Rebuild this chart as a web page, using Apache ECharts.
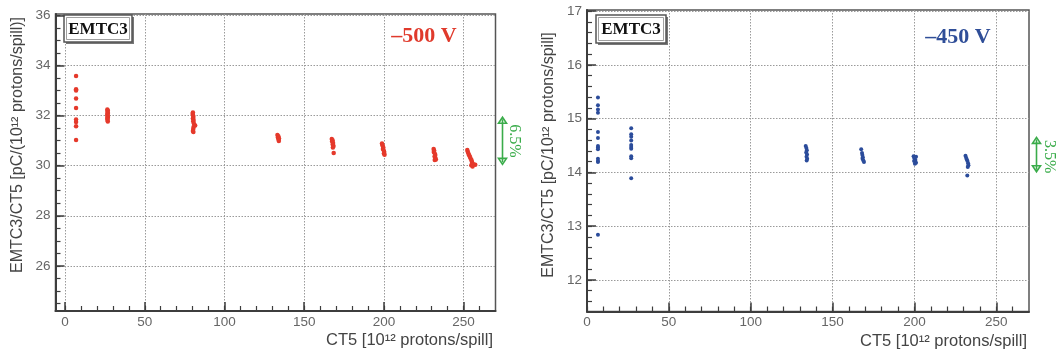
<!DOCTYPE html>
<html><head><meta charset="utf-8">
<script src="https://cdn.jsdelivr.net/npm/echarts@6/dist/echarts.min.js"></script>
<style>html,body{margin:0;padding:0;background:#fff}#c{width:1059px;height:356px}</style>
</head><body><div id="c"></div>
<script>
// ---- data ----
const xTickLabels = [0, 50, 100, 150, 200, 250];
const leftYTickLabels = [26, 28, 30, 32, 34, 36];
const rightYTickLabels = [12, 13, 14, 15, 16, 17];

// -500 V (red) : [CT5, EMTC3/CT5]
const redPoints = [
  [6.9,33.58],[6.9,33.05],[6.9,33.0],[6.9,32.68],[6.9,32.30],[6.9,31.84],[6.9,31.74],[6.9,31.57],[6.9,31.02],
  [26.5,32.24],[26.8,32.20],[26.6,32.15],[26.9,32.10],[26.5,32.06],[26.7,32.02],[26.6,31.98],[26.9,31.94],[26.5,31.90],[26.7,31.86],[26.6,31.82],[26.8,31.76],
  [80.2,32.12],[80.0,32.06],[80.3,32.00],[80.5,31.94],[80.2,31.88],[80.6,31.82],[80.4,31.76],[80.8,31.68],[81.6,31.60],[80.6,31.54],[80.4,31.46],[80.2,31.38],[80.5,31.34],
  [133.2,31.22],[133.8,31.17],[133.5,31.12],[134.2,31.08],[133.9,31.04],[134.1,30.98],
  [167.3,31.06],[167.8,31.01],[167.5,30.96],[168.1,30.90],[167.9,30.84],[168.4,30.78],[168.0,30.72],[168.5,30.50],
  [198.8,30.88],[199.0,30.83],[199.3,30.78],[199.6,30.72],[199.4,30.66],[199.9,30.60],[200.2,30.54],[200.0,30.48],[200.4,30.43],
  [231.2,30.66],[231.5,30.60],[231.3,30.54],[231.9,30.48],[232.2,30.42],[231.8,30.36],[232.3,30.30],[232.6,30.24],[231.9,30.22],
  [252.3,30.62],[252.6,30.55],[253.0,30.48],[253.5,30.41],[253.9,30.35],[254.4,30.28],[254.9,30.22],[255.2,30.15],[255.5,30.08],[254.8,30.02],[256.2,30.06],[257.3,30.04],[255.6,29.97]
];
// -450 V (blue)
const bluePoints = [
  [6.7,15.39],[6.7,15.25],[6.7,15.17],[6.7,15.11],[6.7,14.75],[6.7,14.64],[6.7,14.49],[6.7,14.46],[6.7,14.43],[6.7,14.25],[6.7,14.21],[6.7,14.19],[6.7,12.84],
  [27.0,14.82],[27.0,14.71],[27.0,14.66],[27.0,14.59],[27.0,14.51],[27.0,14.47],[27.0,14.44],[27.0,14.30],[27.0,14.26],[27.0,13.89],
  [133.6,14.49],[134.0,14.45],[134.3,14.41],[133.9,14.37],[134.4,14.33],[134.1,14.29],[134.5,14.25],[134.2,14.22],
  [167.5,14.43],[168.0,14.36],[168.2,14.32],[168.5,14.28],[168.3,14.25],[168.8,14.22],[169.2,14.19],
  [199.5,14.30],[201.0,14.29],[200.0,14.26],[200.6,14.23],[199.8,14.21],[201.0,14.18],[200.3,14.16],
  [231.2,14.31],[231.6,14.27],[232.0,14.24],[232.4,14.21],[232.8,14.17],[233.0,14.13],[232.6,14.10],[232.3,13.94]
];
// spread annotations [top, bottom] in data units
const leftSpread = [31.93, 30.05];
const rightSpread = [14.65, 14.01];

// ---- helpers ----
function range(a, b, s) { const r = []; for (let v = a; v <= b + 1e-9; v += s) r.push(+v.toFixed(3)); return r; }
const xMinor = range(0, 260, 10);
const leftYMinor = range(24.5, 36, 0.5);
const rightYMinor = range(11.6, 17, 0.2);

const AX = '#3d3d3d', LBL = '#666', GRIDC = '#9a9a9a';
const FONT = 'Liberation Sans, Arial, sans-serif';

function mainAxis(gi, min, max, ticks, pos, isY) {
  return {
    type: 'value', gridIndex: gi, min: min, max: max, position: pos,
    axisLine: { show: true, onZero: false, lineStyle: { color: AX, width: 2 } },
    axisTick: { show: true, inside: true, length: 9, customValues: ticks, lineStyle: { color: AX, width: 1.5 } },
    axisLabel: { customValues: ticks, color: LBL, fontSize: 13.5, fontFamily: FONT, margin: isY ? 5 : 4 },
    splitLine: { show: true, lineStyle: { color: GRIDC, type: [1.5, 1.5], width: 1 } }
  };
}
function minorAxis(gi, min, max, ticks, pos) {
  return {
    type: 'value', gridIndex: gi, min: min, max: max, position: pos,
    axisLine: { show: false, onZero: false },
    axisTick: { show: true, inside: true, length: 5, customValues: ticks, lineStyle: { color: AX, width: 1.2 } },
    axisLabel: { show: false }, splitLine: { show: false }
  };
}

const chart = echarts.init(document.getElementById('c'), null, { renderer: 'canvas' });

const option = {
  animation: false,
  backgroundColor: '#ffffff',
  grid: [
    { left: 55.5, top: 14, width: 440, height: 297, show: true, borderColor: '#555', borderWidth: 1.5, backgroundColor: 'transparent' },
    { left: 587, top: 10, width: 442, height: 301.5, show: true, borderColor: '#555', borderWidth: 1.5, backgroundColor: 'transparent' }
  ],
  xAxis: [
    mainAxis(0, -6, 270, xTickLabels, 'bottom', false),
    minorAxis(0, -6, 270, xMinor, 'bottom'),
    mainAxis(1, 0, 270, xTickLabels, 'bottom', false),
    minorAxis(1, 0, 270, xMinor, 'bottom')
  ],
  yAxis: [
    mainAxis(0, 24.2, 36.05, leftYTickLabels, 'left', true),
    minorAxis(0, 24.2, 36.05, leftYMinor, 'left'),
    mainAxis(1, 11.41, 17.02, rightYTickLabels, 'left', true),
    minorAxis(1, 11.41, 17.02, rightYMinor, 'left')
  ],
  series: [
    { type: 'scatter', xAxisIndex: 0, yAxisIndex: 0, data: redPoints, symbolSize: 4.5,
      itemStyle: { color: '#e5392b', opacity: 1 } },
    { type: 'scatter', xAxisIndex: 2, yAxisIndex: 2, data: bluePoints, symbolSize: 4,
      itemStyle: { color: '#2b4c9b', opacity: 1 } }
  ]
};
chart.setOption(option);

const p = (gi, v) => chart.convertToPixel({ gridIndex: gi }, v);
const lt = p(0, [270, leftSpread[0]]), lb = p(0, [270, leftSpread[1]]);
const rt = p(1, [270, rightSpread[0]]), rb = p(1, [270, rightSpread[1]]);
const GREEN = '#3aac4a';

function arrow(x, y1, y2) {
  return [
    { type: 'line', shape: { x1: x, y1: y1 + 2, x2: x, y2: y2 - 2 }, style: { stroke: GREEN, lineWidth: 1.6 } },
    { type: 'polygon', shape: { points: [[x - 4, y1 + 6], [x, y1], [x + 4, y1 + 6]] }, style: { fill: null, stroke: GREEN, lineWidth: 1.6 } },
    { type: 'polygon', shape: { points: [[x - 4, y2 - 6], [x, y2], [x + 4, y2 - 6]] }, style: { fill: null, stroke: GREEN, lineWidth: 1.6 } }
  ];
}
function box(x, y, w, h) {
  return [
    { type: 'rect', shape: { x: x + 2, y: y + 2, width: w, height: h }, style: { fill: '#777' } },
    { type: 'rect', shape: { x: x, y: y, width: w, height: h }, style: { fill: '#fff', stroke: '#555', lineWidth: 1.5 } },
    { type: 'rect', shape: { x: x + 2.5, y: y + 2.5, width: w - 5, height: h - 5 }, style: { fill: null, stroke: '#888', lineWidth: 0.8 } },
    { type: 'text', x: x + w / 2, y: y + h / 2 + 1, style: { text: 'EMTC3', font: 'bold 17px "Liberation Serif", "DejaVu Serif", serif', fill: '#111', textAlign: 'center', textVerticalAlign: 'middle' } }
  ];
}

const graphics = [].concat(
  box(64, 15, 68, 27),
  box(596, 15, 70, 28),
  arrow(lt[0] + 7, lt[1], lb[1]),
  arrow(rt[0] + 7.5, rt[1], rb[1]),
  [
    { type: 'text', x: 18, y: 145, rotation: Math.PI / 2, style: { text: 'EMTC3/CT5 [pC/(10¹² protons/spill)]', font: '16px ' + FONT, fill: '#444', textAlign: 'center', textVerticalAlign: 'middle' } },
    { type: 'text', x: 549, y: 155, rotation: Math.PI / 2, style: { text: 'EMTC3/CT5 [pC/10¹² protons/spill]', font: '16px ' + FONT, fill: '#444', textAlign: 'center', textVerticalAlign: 'middle' } },
    { type: 'text', x: 493, y: 340, style: { text: 'CT5 [10¹² protons/spill]', font: '16.5px ' + FONT, fill: '#444', textAlign: 'right', textVerticalAlign: 'middle' } },
    { type: 'text', x: 1027, y: 341, style: { text: 'CT5 [10¹² protons/spill]', font: '16.5px ' + FONT, fill: '#444', textAlign: 'right', textVerticalAlign: 'middle' } },
    { type: 'text', x: 424, y: 36, style: { text: '–500 V', font: 'bold 22px "Liberation Serif", "DejaVu Serif", serif', fill: '#e03a2c', textAlign: 'center', textVerticalAlign: 'middle' } },
    { type: 'text', x: 958, y: 37, style: { text: '–450 V', font: 'bold 22px "Liberation Serif", "DejaVu Serif", serif', fill: '#2f4e98', textAlign: 'center', textVerticalAlign: 'middle' } },
    { type: 'text', x: lt[0] + 19, y: (lt[1] + lb[1]) / 2, rotation: -Math.PI / 2, style: { text: '6.5%', font: '16px "Liberation Serif", "DejaVu Serif", serif', fill: GREEN, textAlign: 'center', textVerticalAlign: 'middle' } },
    { type: 'text', x: rt[0] + 20, y: (rt[1] + rb[1]) / 2 + 2, rotation: -Math.PI / 2, style: { text: '3.5%', font: '16px "Liberation Serif", "DejaVu Serif", serif', fill: GREEN, textAlign: 'center', textVerticalAlign: 'middle' } }
  ]
);
chart.setOption({ graphic: { elements: graphics } });
</script>
</body></html>
